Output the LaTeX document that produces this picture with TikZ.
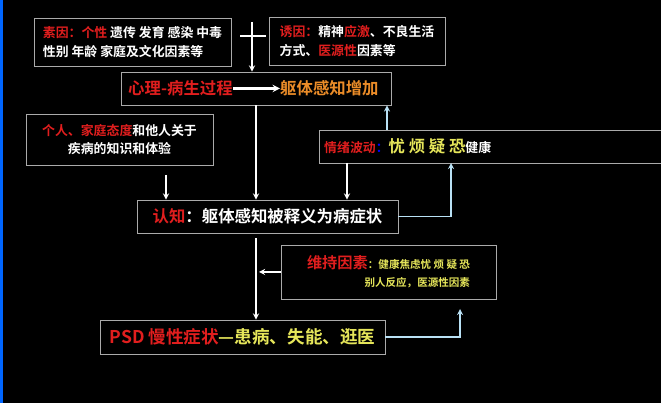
\documentclass[tikz,border=0pt]{standalone}
\usepackage{fontspec}
\setmainfont{Noto Sans CJK SC}[BoldFont={Noto Sans CJK SC Bold}]
\usetikzlibrary{positioning}
\definecolor{red}{RGB}{225,30,30}
\definecolor{orange}{RGB}{235,140,40}
\definecolor{yellow}{RGB}{230,230,90}
\definecolor{lblue}{RGB}{185,225,245}
\definecolor{frame}{RGB}{170,170,170}
\tikzset{
  box/.style={draw=frame,line width=0.8pt,text=white,font=\bfseries,inner sep=0pt,align=left},
  flow/.style={-stealth,white,line width=1.3pt},
  back/.style={-stealth,lblue,line width=1.3pt},
}
\begin{document}
\begin{tikzpicture}[x=0.03cm,y=-0.03cm]
	\fill[black] (0,0) rectangle (661,403);
	\fill[blue!60!cyan] (0,0) rectangle (3,403);
	\useasboundingbox (0,0) rectangle (661,403);

	% boxes
	\node[box,minimum width=197*0.03cm,minimum height=48*0.03cm,font=\bfseries\fontsize{11}{16}\selectfont] (cause) at (132.5,42) {\textcolor{red}{素因：个性} 遗传 发育 感染 中毒\\性别 年龄 家庭及文化因素等};
	\node[box,minimum width=176*0.03cm,minimum height=48*0.03cm,font=\bfseries\fontsize{11}{16}\selectfont] (trigger) at (357,41) {\textcolor{red}{诱因：}精神\textcolor{red}{应激}、不良生活\\方式、\textcolor{red}{医源性}因素等};
	\node[box,minimum width=270*0.03cm,minimum height=33*0.03cm] (process) at (256,88.5) {};
	\node[red,font=\bfseries\fontsize{14}{16}\selectfont,anchor=west,inner sep=0pt] (proc) at (128,88.5) {心理-病生过程};
	\node[orange,font=\bfseries\fontsize{14}{16}\selectfont,anchor=west,inner sep=0pt] (sense) at (280,88.5) {躯体感知增加};
	\node[box,minimum width=187*0.03cm,minimum height=51*0.03cm,font=\bfseries\fontsize{11}{16}\selectfont,align=center] (family) at (119.5,139.5) {\textcolor{red}{个人、家庭态度}和他人关于\\疾病的知识和体验};
	\draw[frame,line width=0.8pt] (661,130) -| (319,163) -- (661,163);
	\coordinate (mood) at (319,146.5);
	\node[anchor=west,inner sep=0pt,font=\bfseries\fontsize{11}{16}\selectfont,white] (moodtext) at (324,146.5) {\textcolor{red}{情绪波动}\textcolor{blue}{：}\textcolor{yellow}{\fontsize{14}{16}\selectfont 忧\ 烦\ 疑\ 恐}健康};
	\node[box,minimum width=261*0.03cm,minimum height=33*0.03cm,font=\bfseries\fontsize{14}{18}\selectfont] (cogn) at (267.5,216.5) {\textcolor{red}{认知}：躯体感知被释义为病症状};
	\node[box,minimum width=215*0.03cm,minimum height=54*0.03cm,align=right,font=\bfseries\fontsize{9}{15}\selectfont] (keep) at (388.5,272) {\textcolor{red}{\fontsize{13}{15}\selectfont 维持因素}\textcolor{yellow}{：健康焦虑忧 烦 疑 恐}\\\textcolor{yellow}{别人反应，医源性因素}\hspace{25pt}};
	\node[box,minimum width=285*0.03cm,minimum height=34*0.03cm,font=\bfseries\fontsize{15}{18}\selectfont] (psd) at (242.5,337) {\textcolor{red}{PSD 慢性症状}\textcolor{yellow}{—患病、失能、逛医}};

	% cross
	\coordinate (crossT) at (252,22);
	\coordinate (crossL) at (240,36);
	\coordinate (crossR) at (266,36);
	\draw[white,line width=1.5pt] (crossL) -- (crossR);
	\draw[flow] (crossT) -- (process.north -| crossT);
	\draw[flow,line width=1.8pt] (proc.east) -- (sense.west);

	% forward connectors
	\coordinate (famT) at (166,175);
	\draw[flow] (famT) -- (cogn.north -| famT);
	\draw[flow] (process.south -| 256,0) -- (cogn.north -| 256,0);
	\draw[flow] (347,163) -- (cogn.north -| 347,0);
	\coordinate (cognB) at (256,238);
	\draw[flow] (cognB) -- (psd.north -| cognB);
	\draw[flow] (keep.west) -- (259,272);

	% feedback connectors
	\draw[back] (387,130) -- (process.south -| 387,0);
	\draw[back] (cogn.east) -| (451,163);
	\coordinate (keepB) at (460,309);
	\draw[back] (psd.east) -| (keepB);
\end{tikzpicture}
\end{document}
